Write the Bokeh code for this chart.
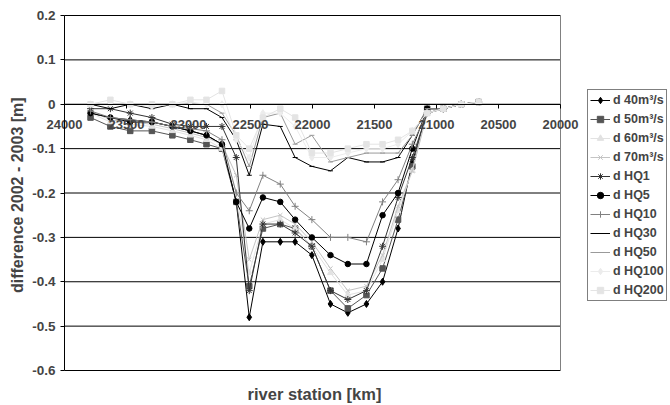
from bokeh.plotting import figure
from bokeh.models import (Range1d, FixedTicker, NumeralTickFormatter, Legend, LegendItem, Label)
from bokeh.embed import file_html
from bokeh.resources import INLINE

# ---- data -------------------------------------------------------------
stations = [23790, 23630, 23470, 23295, 23130, 22985, 22855, 22730, 22615, 22510,
            22400, 22260, 22140, 22005, 21855, 21715, 21565, 21435, 21310, 21195,
            21075, 20945, 20800, 20660]

d_40 = [-0.02, -0.03, -0.035, -0.04, -0.05, -0.06, -0.07, -0.09, -0.22, -0.48,
        -0.31, -0.31, -0.31, -0.34, -0.45, -0.47, -0.45, -0.40, -0.28, -0.13,
        -0.02, -0.01, 0.0, 0.005]
d_50 = [-0.03, -0.05, -0.06, -0.06, -0.07, -0.08, -0.09, -0.10, -0.22, -0.41,
        -0.28, -0.27, -0.28, -0.32, -0.42, -0.46, -0.43, -0.37, -0.26, -0.14,
        -0.01, -0.01, 0.0, 0.005]
d_60 = [-0.02, -0.04, -0.045, -0.05, -0.06, -0.07, -0.08, -0.10, -0.20, -0.38,
        -0.27, -0.26, -0.28, -0.32, -0.38, -0.43, -0.42, -0.35, -0.24, -0.15,
        -0.02, -0.01, 0.0, 0.005]
d_70 = [-0.015, -0.035, -0.04, -0.045, -0.055, -0.065, -0.075, -0.09, -0.16, -0.35,
        -0.26, -0.25, -0.27, -0.31, -0.37, -0.42, -0.41, -0.34, -0.23, -0.15,
        -0.02, -0.01, 0.0, 0.005]
d_hq1 = [-0.01, -0.01, -0.02, -0.03, -0.045, -0.05, -0.05, -0.05, -0.12, -0.42,
         -0.27, -0.27, -0.29, -0.32, -0.42, -0.44, -0.42, -0.32, -0.21, -0.12,
         -0.02, -0.01, 0.0, 0.005]
d_hq5 = [-0.02, -0.03, -0.04, -0.04, -0.05, -0.06, -0.07, -0.09, -0.22, -0.28,
         -0.21, -0.22, -0.26, -0.30, -0.34, -0.36, -0.36, -0.25, -0.20, -0.10,
         -0.01, -0.01, 0.0, 0.005]
d_hq10 = [-0.015, -0.03, -0.035, -0.04, -0.05, -0.055, -0.06, -0.08, -0.20, -0.24,
          -0.16, -0.18, -0.23, -0.26, -0.30, -0.30, -0.31, -0.22, -0.17, -0.09,
          -0.02, -0.01, 0.0, 0.005]
d_hq30 = [0.0, -0.01, 0.0, -0.01, 0.0, -0.01, -0.01, -0.03, -0.08, -0.16,
          -0.045, -0.05, -0.12, -0.14, -0.15, -0.12, -0.13, -0.13, -0.12, -0.07,
          -0.01, -0.01, 0.0, 0.005]
d_hq50 = [0.0, 0.0, 0.0, 0.0, 0.0, 0.0, 0.0, -0.02, -0.07, -0.14,
          -0.03, -0.02, -0.09, -0.07, -0.13, -0.12, -0.11, -0.11, -0.11, -0.07,
          -0.01, -0.01, 0.0, 0.005]
d_hq100 = [0.0, 0.0, 0.0, -0.005, 0.0, 0.005, 0.0, 0.0, -0.08, -0.12,
           -0.02, -0.02, -0.05, -0.12, -0.12, -0.11, -0.10, -0.10, -0.09, -0.06,
           -0.02, -0.01, 0.0, 0.005]
d_hq200 = [0.0, 0.01, 0.0, 0.0, 0.0, 0.01, 0.01, 0.03, -0.07, -0.10,
           -0.03, -0.01, -0.03, -0.11, -0.11, -0.10, -0.09, -0.09, -0.08, -0.06,
           -0.02, -0.01, 0.0, 0.005]

series_names = ["d 40m³/s", "d 50m³/s", "d 60m³/s", "d 70m³/s", "d HQ1", "d HQ5",
                "d HQ10", "d HQ30", "d HQ50", "d HQ100", "d HQ200"]
series_values = [d_40, d_50, d_60, d_70, d_hq1, d_hq5, d_hq10, d_hq30, d_hq50,
                 d_hq100, d_hq200]

x_ticks = [24000, 23500, 23000, 22500, 22000, 21500, 21000, 20500, 20000]
y_ticks = [-0.6, -0.5, -0.4, -0.3, -0.2, -0.1, 0.0, 0.1, 0.2]

# ---- styles -----------------------------------------------------------
line_colors = ["#000000", "#555555", "#e2e2e2", "#c4c4c4", "#333333", "#000000",
               "#808080", "#000000", "#9a9a9a", "#ececec", "#e4e4e4"]
marker_types = ["diamond", "square", "triangle", "x", "asterisk", "circle",
                "cross", "dash", "dash", "diamond", "square"]
marker_sizes = [7, 5.5, 6, 6, 7, 5.5, 7, 5, 5, 7, 5.5]

FONT = "Liberation Sans"
W, H = 670, 405
# plot-area placement inside the full-size frame (pixels)
PA_LEFT, PA_RIGHT, PA_TOP, PA_BOTTOM = 64, 560, 15, 370

x_per_px = (x_ticks[0] - x_ticks[-1]) / (PA_RIGHT - PA_LEFT)
y_per_px = (y_ticks[-1] - y_ticks[0]) / (PA_BOTTOM - PA_TOP)
x_lo = x_ticks[0] + PA_LEFT * x_per_px
x_hi = x_ticks[-1] - (W - PA_RIGHT) * x_per_px
y_hi = y_ticks[-1] + PA_TOP * y_per_px
y_lo = y_ticks[0] - (H - PA_BOTTOM) * y_per_px

p = figure(width=W, height=H, output_backend="svg", toolbar_location=None,
           x_range=Range1d(x_lo, x_hi), y_range=Range1d(y_lo, y_hi),
           min_border=0)

p.outline_line_color = None
p.background_fill_color = "white"
p.border_fill_color = "white"
p.xgrid.visible = False
p.ygrid.visible = False

# horizontal grid lines limited to the plot area
p.segment(x0=x_ticks[0], x1=x_ticks[-1], y0=y_ticks, y1=y_ticks,
          line_color="#000000", line_width=1)
# right border of the plot area
p.segment(x0=[x_ticks[-1]], x1=[x_ticks[-1]], y0=[y_ticks[0]], y1=[y_ticks[-1]],
          line_color="#808080", line_width=1)

# y axis at x = 24000
p.yaxis.fixed_location = x_ticks[0]
p.yaxis.bounds = (y_ticks[0], y_ticks[-1])
p.yaxis.ticker = FixedTicker(ticks=y_ticks)
p.yaxis.formatter = NumeralTickFormatter(format="0.[0]")
p.yaxis.axis_label = "difference 2002 - 2003  [m]"
p.yaxis.axis_label_text_font = FONT
p.yaxis.axis_label_text_font_style = "bold"
p.yaxis.axis_label_text_font_size = "16px"
p.yaxis.axis_label_standoff = 3
p.yaxis.major_label_text_font = FONT
p.yaxis.major_label_text_font_style = "bold"
p.yaxis.major_label_text_font_size = "13.5px"
p.yaxis.major_label_standoff = 5
p.yaxis.major_tick_out = 4
p.yaxis.major_tick_in = 0
p.yaxis.minor_tick_out = 0
p.yaxis.minor_tick_in = 0
p.yaxis.axis_line_color = "#000000"

# x axis crossing at y = 0
p.xaxis.fixed_location = 0
p.xaxis.bounds = (x_ticks[-1], x_ticks[0])
p.xaxis.ticker = FixedTicker(ticks=x_ticks)
p.xaxis.major_label_text_font = FONT
p.xaxis.major_label_text_font_style = "bold"
p.xaxis.major_label_text_font_size = "13px"
p.xaxis.major_label_standoff = 12
p.xaxis.major_tick_out = 4
p.xaxis.major_tick_in = 0
p.xaxis.minor_tick_out = 0
p.xaxis.minor_tick_in = 0
p.xaxis.axis_line_color = "#000000"

p.add_layout(Label(x=(x_ticks[0] + x_ticks[-1]) / 2, y=12, x_units="data",
                   y_units="screen", x_offset=2, text="river station [km]",
                   text_align="center", text_baseline="middle", text_font=FONT,
                   text_font_style="bold", text_font_size="16.5px"))

items = []
for name, vals, col, mk, ms in zip(series_names, series_values, line_colors,
                                   marker_types, marker_sizes):
    r1 = p.line(stations, vals, line_color=col, line_width=1)
    r2 = p.scatter(stations, vals, marker=mk, size=ms, line_color=col,
                   fill_color=col, line_width=1)
    items.append(LegendItem(label=name, renderers=[r1, r2]))

legend = Legend(items=items, location=(587, 104), orientation="vertical",
                label_text_font=FONT, label_text_font_style="bold",
                label_text_font_size="12.5px", border_line_color="#000000",
                border_line_width=1, background_fill_color="white",
                background_fill_alpha=1, glyph_width=20, glyph_height=16,
                label_height=16, label_standoff=3, spacing=3, padding=2,
                margin=0)
p.add_layout(legend, "center")

open("out.html", "w").write(file_html(p, INLINE))
